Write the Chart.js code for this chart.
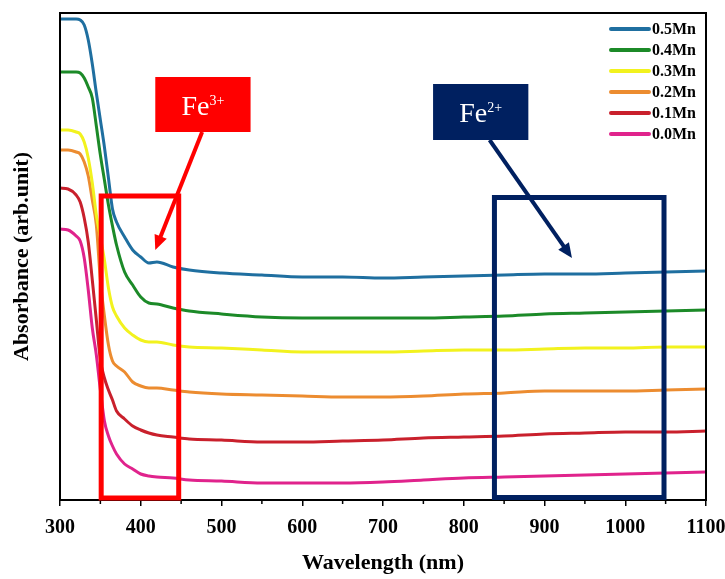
<!DOCTYPE html>
<html>
<head>
<meta charset="utf-8">
<script src="https://cdn.jsdelivr.net/npm/chart.js@4.4.0/dist/chart.umd.min.js"></script>
<style>
  html, body { margin: 0; padding: 0; background: #fff; }
  #wrap { width: 725px; height: 579px; }
</style>
</head>
<body>
<div id="wrap"><canvas id="c"></canvas></div>
<script>
// wavelength grid (nm), finer where the edge drops
const wavelength = [300, 310, 320, 325, 330, 335, 340, 345, 350, 355, 360, 365, 370, 380, 390, 400, 410, 420, 440, 460, 500, 550, 600, 650, 700, 750, 800, 850, 900, 950, 1000, 1050, 1100];

// absorbance (arb. unit, stacked as in the figure)
const mn05 = [4.81, 4.81, 4.81, 4.80, 4.75, 4.60, 4.36, 4.07, 3.80, 3.53, 3.22, 2.91, 2.78, 2.63, 2.50, 2.43, 2.37, 2.38, 2.33, 2.30, 2.27, 2.25, 2.23, 2.23, 2.22, 2.23, 2.24, 2.25, 2.26, 2.26, 2.27, 2.28, 2.29];
const mn04 = [4.28, 4.28, 4.28, 4.27, 4.22, 4.13, 4.02, 3.74, 3.45, 3.20, 2.95, 2.74, 2.55, 2.28, 2.15, 2.03, 1.97, 1.96, 1.92, 1.89, 1.86, 1.83, 1.82, 1.82, 1.82, 1.82, 1.83, 1.84, 1.86, 1.87, 1.88, 1.89, 1.90];
const mn03 = [3.70, 3.70, 3.68, 3.66, 3.58, 3.42, 3.17, 2.85, 2.63, 2.40, 2.12, 1.93, 1.84, 1.72, 1.65, 1.60, 1.58, 1.58, 1.55, 1.53, 1.52, 1.50, 1.48, 1.48, 1.48, 1.49, 1.50, 1.50, 1.51, 1.52, 1.52, 1.53, 1.53];
const mn02 = [3.50, 3.50, 3.48, 3.46, 3.38, 3.24, 3.00, 2.75, 2.20, 1.84, 1.55, 1.39, 1.34, 1.28, 1.18, 1.14, 1.12, 1.12, 1.10, 1.08, 1.06, 1.05, 1.04, 1.03, 1.03, 1.04, 1.06, 1.07, 1.09, 1.09, 1.09, 1.10, 1.11];
const mn01 = [3.12, 3.11, 3.05, 2.98, 2.82, 2.58, 2.20, 1.80, 1.40, 1.22, 1.10, 1.00, 0.89, 0.81, 0.74, 0.70, 0.67, 0.65, 0.63, 0.61, 0.60, 0.58, 0.58, 0.59, 0.60, 0.62, 0.63, 0.64, 0.66, 0.67, 0.68, 0.68, 0.69];
const mn00 = [2.71, 2.70, 2.64, 2.59, 2.42, 2.10, 1.72, 1.45, 1.10, 0.79, 0.64, 0.54, 0.46, 0.36, 0.31, 0.26, 0.24, 0.23, 0.22, 0.20, 0.19, 0.17, 0.17, 0.17, 0.18, 0.20, 0.22, 0.23, 0.24, 0.25, 0.26, 0.27, 0.28];

const sampleLabels = ['0.5Mn', '0.4Mn', '0.3Mn', '0.2Mn', '0.1Mn', '0.0Mn'];
const seriesValues = [mn05, mn04, mn03, mn02, mn01, mn00];
const lineColors = ['#1f6fa0', '#1c8a28', '#f2f21e', '#ec8c30', '#c9202c', '#e0238c'];

// marked regions and labels, in data units (nm, absorbance)
const regions = [
  { label: '3+', color: '#ff0000', box: [351, 447, 0.02, 3.04], tag: [418, 536, 3.68, 4.23], arrow: [476, 3.68, 418, 2.50] },
  { label: '2+', color: '#002060', box: [838, 1048, 0.025, 3.025], tag: [762, 880, 3.60, 4.16], arrow: [832, 3.60, 934, 2.42] }
];

const serif = "'Liberation Serif', 'Times New Roman', serif";

function drawArrow(ctx, x1, y1, x2, y2, color, w, head) {
  const ang = Math.atan2(y2 - y1, x2 - x1);
  ctx.strokeStyle = color;
  ctx.lineWidth = w;
  ctx.beginPath();
  ctx.moveTo(x1, y1);
  ctx.lineTo(x2 - Math.cos(ang) * head * 0.7, y2 - Math.sin(ang) * head * 0.7);
  ctx.stroke();
  ctx.fillStyle = color;
  ctx.beginPath();
  ctx.moveTo(x2, y2);
  ctx.lineTo(x2 - head * Math.cos(ang - 0.42), y2 - head * Math.sin(ang - 0.42));
  ctx.lineTo(x2 - head * Math.cos(ang + 0.42), y2 - head * Math.sin(ang + 0.42));
  ctx.closePath();
  ctx.fill();
}

const extras = {
  id: 'extras',
  afterDatasetsDraw(chart) {
    const { ctx, chartArea: a, scales: { x, y } } = chart;
    ctx.save();

    // frame
    ctx.strokeStyle = '#000';
    ctx.lineWidth = 2;
    ctx.strokeRect(a.left, a.top, a.right - a.left, a.bottom - a.top);

    // minor ticks
    ctx.lineWidth = 1.5;
    for (let v = x.min + 50; v < x.max; v += 100) {
      const px = x.getPixelForValue(v);
      ctx.beginPath();
      ctx.moveTo(px, a.bottom);
      ctx.lineTo(px, a.bottom + 4);
      ctx.stroke();
    }

    // marked regions
    regions.forEach(r => {
      const [b0, b1, b2, b3] = r.box;
      ctx.strokeStyle = r.color;
      ctx.lineWidth = 5;
      const bx = x.getPixelForValue(b0), bx2 = x.getPixelForValue(b1);
      const by = y.getPixelForValue(b3), by2 = y.getPixelForValue(b2);
      ctx.strokeRect(bx, by, bx2 - bx, by2 - by);

      const [a0, a1, a2, a3] = r.arrow;
      drawArrow(ctx, x.getPixelForValue(a0), y.getPixelForValue(a1),
        x.getPixelForValue(a2), y.getPixelForValue(a3), r.color, 4, 16);

      const [t0, t1, t2, t3] = r.tag;
      const tx = x.getPixelForValue(t0), tx2 = x.getPixelForValue(t1);
      const ty = y.getPixelForValue(t3), ty2 = y.getPixelForValue(t2);
      ctx.fillStyle = r.color;
      ctx.fillRect(tx, ty, tx2 - tx, ty2 - ty);

      ctx.fillStyle = '#fff';
      ctx.textBaseline = 'alphabetic';
      ctx.textAlign = 'left';
      ctx.font = '28px ' + serif;
      const w1 = ctx.measureText('Fe').width;
      ctx.font = '14px ' + serif;
      const w2 = ctx.measureText(r.label).width;
      const sx = (tx + tx2) / 2 - (w1 + w2) / 2;
      const base = (ty + ty2) / 2 + 10;
      ctx.font = '28px ' + serif;
      ctx.fillText('Fe', sx, base);
      ctx.font = '14px ' + serif;
      ctx.fillText(r.label, sx + w1, base - 10);
    });

    // legend
    ctx.font = 'bold 16px ' + serif;
    ctx.textBaseline = 'middle';
    chart.data.datasets.forEach((ds, i) => {
      const ly = a.top + 16 + i * 21;
      ctx.strokeStyle = ds.borderColor;
      ctx.lineWidth = 4;
      ctx.lineCap = 'round';
      ctx.beginPath();
      ctx.moveTo(a.right - 95, ly);
      ctx.lineTo(a.right - 57, ly);
      ctx.stroke();
      ctx.fillStyle = '#000';
      ctx.fillText(ds.label, a.right - 54, ly + 1);
    });
    ctx.restore();
  }
};

new Chart(document.getElementById('c'), {
  type: 'line',
  data: {
    datasets: sampleLabels.map((name, i) => ({
      label: name,
      data: wavelength.map((w, j) => ({ x: w, y: seriesValues[i][j] })),
      borderColor: lineColors[i],
      backgroundColor: lineColors[i],
      borderWidth: 3,
      pointRadius: 0,
      cubicInterpolationMode: 'monotone',
      fill: false
    }))
  },
  options: {
    responsive: true,
    maintainAspectRatio: false,
    animation: false,
    layout: { padding: { top: 13, right: 0, left: 0, bottom: 0 } },
    plugins: {
      legend: { display: false },
      tooltip: { enabled: false }
    },
    scales: {
      x: {
        type: 'linear',
        min: 300,
        max: 1100,
        ticks: {
          stepSize: 100,
          color: '#000',
          padding: 10,
          callback: v => String(v),
          font: { family: serif, size: 20, weight: 'bold' }
        },
        grid: {
          display: true,
          drawOnChartArea: false,
          tickLength: 6,
          color: '#000',
          lineWidth: 1.5
        },
        border: { color: '#000', width: 2 },
        title: {
          display: true,
          text: 'Wavelength (nm)',
          color: '#000',
          padding: { top: 0, bottom: 2 },
          font: { family: serif, size: 22, weight: 'bold' }
        },
        afterFit(scale) {
          scale.height = 79;
          scale.paddingRight = 19;
          scale.paddingLeft = 0;
        }
      },
      y: {
        min: 0,
        max: 4.87,
        ticks: { display: false },
        grid: { display: false },
        border: { color: '#000', width: 2 },
        title: {
          display: true,
          text: 'Absorbance (arb.unit)',
          color: '#000',
          padding: { top: 9, bottom: 0 },
          font: { family: serif, size: 22, weight: 'bold' }
        },
        afterFit(scale) { scale.width = 60; }
      }
    }
  },
  plugins: [extras]
});
</script>
</body>
</html>
